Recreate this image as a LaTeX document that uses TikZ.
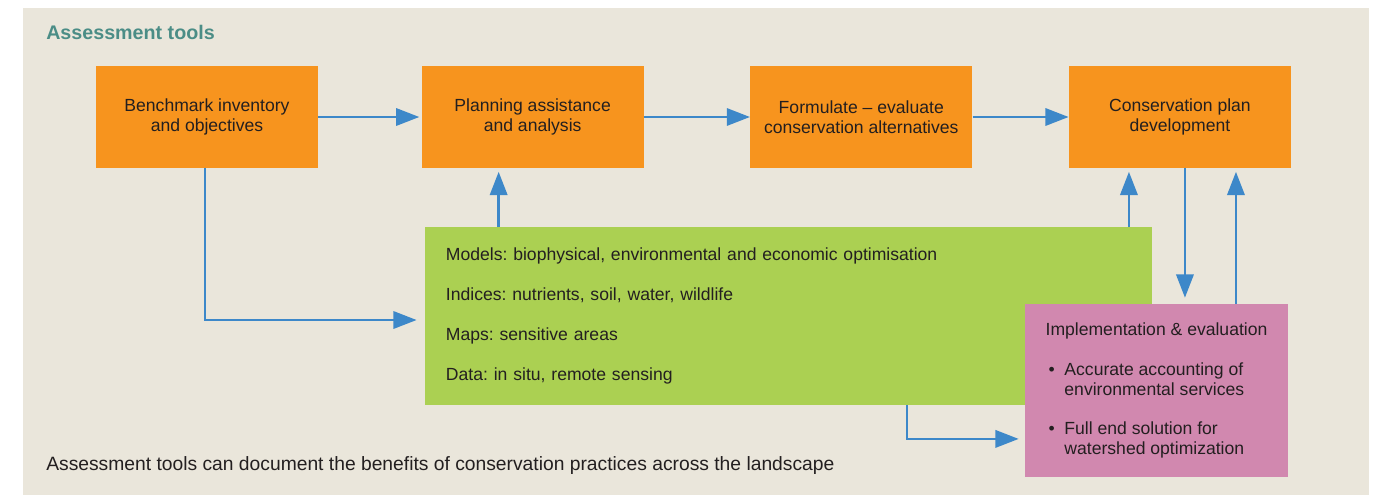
\documentclass[tikz,border=0pt]{standalone}
\usepackage{fontspec}
\setmainfont{Liberation Sans}
\usetikzlibrary{positioning, calc, arrows.meta}
\definecolor{ToolBeige}{HTML}{EAE6DB}
\definecolor{ToolOrange}{HTML}{F7941E}
\definecolor{ToolGreen}{HTML}{ABD052}
\definecolor{ToolPink}{HTML}{D188AF}
\definecolor{ToolBlue}{HTML}{3D88C9}
\definecolor{ToolTeal}{HTML}{4B8D86}
\definecolor{ToolText}{HTML}{231F20}
\newcommand{\boxfont}{\fontsize{12.5}{14.2}\selectfont\frenchspacing}

\begin{document}
\begin{tikzpicture}[x=0.025cm, y=-0.025cm,
    box/.style={rectangle, fill=ToolOrange, inner sep=0pt,
                minimum width=5.55cm, minimum height=2.525cm,
                align=center, font=\boxfont, text=ToolText},
    gbox/.style={rectangle, fill=ToolGreen, inner xsep=0.525cm,
                text width=17.125cm, minimum height=4.425cm,
                align=left, font=\boxfont, text=ToolText},
    pbox/.style={rectangle, fill=ToolPink, inner sep=0pt,
                minimum width=6.575cm, minimum height=4.325cm,
                align=left, font=\boxfont, text=ToolText},
    arr/.style={-{Triangle[length=0.58cm, width=0.43cm]},
                line width=1.9pt, draw=ToolBlue},
    caplab/.style={anchor=west, inner sep=0pt, text=ToolText}]

  %--- Fondo ---
  \useasboundingbox (0,0) rectangle (1378,495);
  \fill[ToolBeige] (23,8) rectangle (1369,495);

  %--- Titulo ---
  \node[caplab, text=ToolTeal, font=\fontsize{14}{16}\selectfont\bfseries]
    (title) at (46,32) {Assessment tools};

  %--- Fila superior ---
  \node[box]                          (bench) at (207,117)
    {Benchmark inventory\\and objectives};
  \node[box, right=2.575cm of bench]  (plan)  {Planning assistance\\and analysis};
  \node[box, right=2.65cm of plan]    (form)  {Formulate -- evaluate\\conservation alternatives};
  \node[box, right=2.4cm of form]     (cons)  {Conservation plan\\development};
  \draw[arr, shorten >=0.05cm] (bench) -- (plan);
  \draw[arr] (plan)  -- (form);
  \draw[arr] (form)  -- (cons);

  %--- Herramientas ---
  \node[gbox] (tools) at (788.5,316)
    {Models: biophysical, environmental and economic optimisation\\[14.2pt]
     Indices: nutrients, soil, water, wildlife\\[14.2pt]
     Maps: sensitive areas\\[14.2pt]
     Data: in situ, remote sensing};

  %--- Implementacion ---
  \node[pbox] (impl) at (1156.5,390.5)
    {Implementation \& evaluation\\[14.2pt]
     \,\textbullet\ \ Accurate accounting of\\
     \hphantom{\,\textbullet\ \ }environmental services\\[14.2pt]
     \,\textbullet\ \ Full end solution for\\
     \hphantom{\,\textbullet\ \ }watershed optimization};

  %--- Conexiones ---
  \draw[arr, shorten >=0.2cm] ([xshift=-0.05cm]bench.south) |- ([yshift=-0.1cm]tools.west);
  \coordinate (g2) at ($(plan.south)+(-34,0)$);
  \draw[arr, shorten >=0.1cm] (g2 |- tools.north) -- (g2);
  \coordinate (g4) at ($(cons.south)+(-51,0)$);
  \draw[arr, shorten >=0.1cm] (g4 |- tools.north) -- (g4);
  \coordinate (d4) at ($(cons.south)+(5,0)$);
  \draw[arr, shorten >=0.15cm] (d4) -- (d4 |- impl.north);
  \coordinate (u4) at ($(cons.south)+(56,0)$);
  \draw[arr, shorten >=0.1cm] (u4 |- impl.north) -- (u4);
  \draw[arr, shorten >=0.15cm] ([xshift=2.96cm]tools.south) |- ([yshift=-1.21cm]impl.west);

  %--- Pie ---
  \node[caplab, font=\fontsize{13.7}{16}\selectfont\frenchspacing] (foot) at (46,466)
    {Assessment tools can document the benefits of conservation practices across the landscape};
\end{tikzpicture}
\end{document}
